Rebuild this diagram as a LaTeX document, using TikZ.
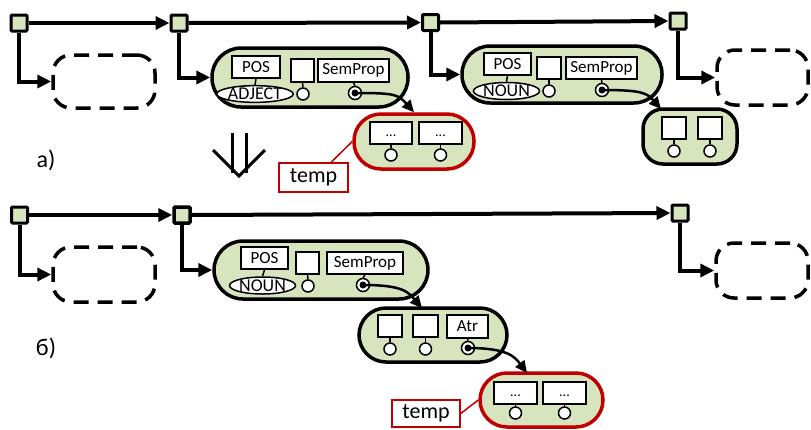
\documentclass[tikz,border=0pt]{standalone}
\usepackage{fontspec}
\setmainfont{Carlito}
\usetikzlibrary{arrows.meta,shapes.geometric,calc}
\definecolor{lg}{RGB}{215,228,189}
\definecolor{dred}{RGB}{192,0,0}
\tikzset{
 fs/.style={font=\fontsize{#1}{#1}\selectfont},
 sq/.style={draw, fill=lg, line width=3pt, minimum size=16pt, inner sep=0pt, rounded corners=1pt},
 conn/.style={line width=4pt, -{Triangle[length=14pt,width=13pt]}},
 bigbox/.style={draw, fill=lg, line width=3.5pt, rounded corners=#1, inner sep=0pt},
 dbox/.style={draw, line width=3.5pt, dash pattern=on 15pt off 9pt, rounded corners=18pt, inner sep=0pt},
 field/.style={draw, fill=white, line width=1.5pt, inner sep=0pt, fs=17},
 tag/.style={ellipse, draw, fill=white, line width=1.5pt, inner sep=0pt, fs=18},
 port/.style={circle, draw, fill=white, line width=1.5pt, minimum size=12pt, inner sep=0pt},
 ptr/.style={port, minimum size=13pt},
 dot/.style={circle, fill=black, minimum size=7pt, inner sep=0pt},
 ptrline/.style={line width=2.5pt, -{Triangle[length=12pt,width=11pt]}},
 stem/.style={line width=1.5pt},
 tempbox/.style={draw=dred, line width=1.5pt, fill=white, fs=22, inner sep=0pt},
 redline/.style={draw=dred, line width=1.5pt},
}
\begin{document}
\begin{tikzpicture}[x=1pt,y=-1pt]
\useasboundingbox (0,0) rectangle (811,429);

% ---------------- row a ----------------
\node[sq] (sqA1) at (19,23) {};
\node[sq] (sqA2) at (179,23) {};
\node[sq] (sqA3) at (430.5,22.5) {};
\node[sq] (sqA4) at (678,21) {};

\node[dbox, minimum width=102pt, minimum height=53pt] (dashA1) at (104,81.5) {};
\node[dbox, minimum width=91pt, minimum height=55pt] (dashA2) at (762.5,77.5) {};

\node[bigbox=29pt, minimum width=196pt, minimum height=59pt] (bigA1) at (310,77.5) {};
\node[field, minimum width=48pt, minimum height=22pt] (posA1) at (256,67) {POS};
\node[tag, minimum width=74pt, minimum height=16pt] (tagA1) at (255,94) {ADJECT};
\node[field, minimum width=23pt, minimum height=23pt] (eA1) at (302.5,70.5) {};
\node[port] (cA1) at (303,94) {};
\node[field, minimum width=71pt, minimum height=23pt] (spA1) at (353.5,70.5) {SemProp};
\node[ptr] (pA1) at (355,93) {};
\node[dot] (qA1) at (pA1) {};
\draw[stem] (posA1.south) -- (tagA1.north);
\draw[stem] (eA1.south) -- (cA1.north);
\draw[stem] (spA1.south) -- (pA1.north);

\node[bigbox=27pt, draw=dred, minimum width=120pt, minimum height=55pt] (redA) at (414,141.5) {};
\node[field, minimum width=42pt, minimum height=22pt, fs=14] (dA1) at (391,133) {\vphantom{Ag}...};
\node[field, minimum width=43pt, minimum height=22pt, fs=14] (dA2) at (440.5,133) {\vphantom{Ag}...};
\node[port] (cA2) at (391,155) {};
\node[port] (cA3) at (440.5,155) {};
\draw[stem] (dA1.south) -- (cA2.north);
\draw[stem] (dA2.south) -- (cA3.north);

\node[tempbox, minimum width=69pt, minimum height=29pt] (tempA) at (313.5,177.5) {temp};
\draw[redline] ($(tempA.north west)!0.75!(tempA.north east)$) -- (redA.west);

\node[bigbox=28pt, minimum width=200pt, minimum height=57pt] (bigA2) at (562,74.5) {};
\node[field, minimum width=47pt, minimum height=22pt] (posA2) at (507.5,64) {POS};
\node[tag, minimum width=61pt, minimum height=17pt] (tagA2) at (506.5,91) {NOUN};
\node[field, minimum width=24pt, minimum height=22pt] (eA2) at (549,68) {};
\node[port] (cA4) at (549,91) {};
\node[field, minimum width=71pt, minimum height=22pt] (spA2) at (601.5,68) {SemProp};
\node[ptr] (pA2) at (602,90) {};
\node[dot] (qA2) at (pA2) {};
\draw[stem] (posA2.south) -- (tagA2.north);
\draw[stem] (eA2.south) -- (cA4.north);
\draw[stem] (spA2.south) -- (pA2.north);

\node[bigbox=20pt, minimum width=94pt, minimum height=55pt] (smallA) at (690,136.5) {};
\node[field, minimum width=24pt, minimum height=22pt] (fA1) at (674,128) {};
\node[field, minimum width=24pt, minimum height=22pt] (fA2) at (710,128) {};
\node[port] (cA5) at (674,151) {};
\node[port] (cA6) at (710,151) {};
\draw[stem] (fA1.south) -- (cA5.north);
\draw[stem] (fA2.south) -- (cA6.north);
\coordinate (tipA2) at (661,109);

\draw[conn] (sqA1.east) -- (sqA2.west);
\draw[conn] (sqA2.east) -- (sqA3.west);
\draw[conn] (sqA3.east) -- (sqA4.west);
\draw[conn] (sqA1.south) |- (dashA1.west);
\draw[conn] (sqA2.south) |- (bigA1.west);
\draw[conn] (sqA3.south) |- (bigA2.west);
\draw[conn] (sqA4.south) |- (dashA2.west);

\draw[ptrline] (qA1.center) .. controls +(40,0) and +(-16,-18) .. (redA.north);
\draw[ptrline] (qA2.center) .. controls +(40,0) and +(-14,-16) .. (tipA2);

\node[fs=24] (la) at (46,160) {а)};

% double arrow
\draw[line width=3pt] (232,133) -- (232,173) (246,133) -- (246,173);
\draw[line width=3pt, line join=miter] (213,150) -- (239,176) -- (265,150);

% ---------------- row b ----------------
\node[sq] (sqB1) at (19.5,215) {};
\node[sq, line width=3.5pt] (sqB2) at (182,215) {};
\node[sq] (sqB3) at (680,213) {};

\node[dbox, minimum width=102pt, minimum height=55pt] (dashB1) at (104,274.5) {};
\node[dbox, minimum width=92pt, minimum height=55pt] (dashB2) at (762,270.5) {};

\node[bigbox=29pt, minimum width=214pt, minimum height=58pt] (bigB) at (321,270) {};
\node[field, minimum width=47pt, minimum height=22pt] (posB) at (264.5,258) {POS};
\node[tag, minimum width=61pt, minimum height=17pt] (tagB) at (262.5,285.5) {NOUN};
\node[field, minimum width=23pt, minimum height=22pt] (eB) at (307.5,263) {};
\node[port] (cB1) at (308,286) {};
\node[field, minimum width=76pt, minimum height=22pt] (spB) at (365,263) {SemProp};
\node[ptr] (pB1) at (363,285) {};
\node[dot] (qB1) at (pB1) {};
\draw[stem] (posB.south) -- (tagB.north);
\draw[stem] (eB.south) -- (cB1.north);
\draw[stem] (spB.south) -- (pB1.north);

\node[bigbox=27pt, minimum width=148pt, minimum height=54pt] (midB) at (433,335) {};
\node[field, minimum width=24pt, minimum height=22pt] (fB1) at (390,326) {};
\node[field, minimum width=25pt, minimum height=22pt] (fB2) at (425.5,326) {};
\node[field, minimum width=41pt, minimum height=23pt] (atr) at (467.5,326.5) {Atr};
\node[port] (cB2) at (390,349) {};
\node[port] (cB3) at (425.5,349) {};
\node[ptr] (pB2) at (468,348) {};
\node[dot] (qB2) at (pB2) {};
\draw[stem] (fB1.south) -- (cB2.north);
\draw[stem] (fB2.south) -- (cB3.north);
\draw[stem] (atr.south) -- (pB2.north);

\node[bigbox=27pt, draw=dred, minimum width=123pt, minimum height=54pt] (redB) at (541.5,400) {};
\node[field, minimum width=43pt, minimum height=22pt, fs=14] (dB1) at (515.5,393) {\vphantom{Ag}...};
\node[field, minimum width=43pt, minimum height=22pt, fs=14] (dB2) at (564.5,393) {\vphantom{Ag}...};
\node[port] (cB4) at (515.5,413) {};
\node[port] (cB5) at (564.5,413) {};
\draw[stem] (dB1.south) -- (cB4.north);
\draw[stem] (dB2.south) -- (cB5.north);

\node[tempbox, minimum width=68pt, minimum height=27pt] (tempB) at (426,413.5) {temp};
\draw[redline] (tempB.east) -- (redB.west);

\coordinate (tipB1) at (422,308);
\coordinate (tipB2) at (527,373);

\draw[conn] (sqB1.east) -- (sqB2.west);
\draw[conn] (sqB2.east) -- (sqB3.west);
\draw[conn] (sqB1.south) |- (dashB1.west);
\draw[conn] (sqB2.south) |- (bigB.west);
\draw[conn] (sqB3.south) |- (dashB2.west);

\draw[ptrline] (qB1.center) .. controls +(40,0) and +(-14,-16) .. (tipB1);
\draw[ptrline] (qB2.center) .. controls +(40,0) and +(-12,-16) .. (tipB2);

\node[fs=24] (lb) at (46,348) {б)};
\end{tikzpicture}
\end{document}
